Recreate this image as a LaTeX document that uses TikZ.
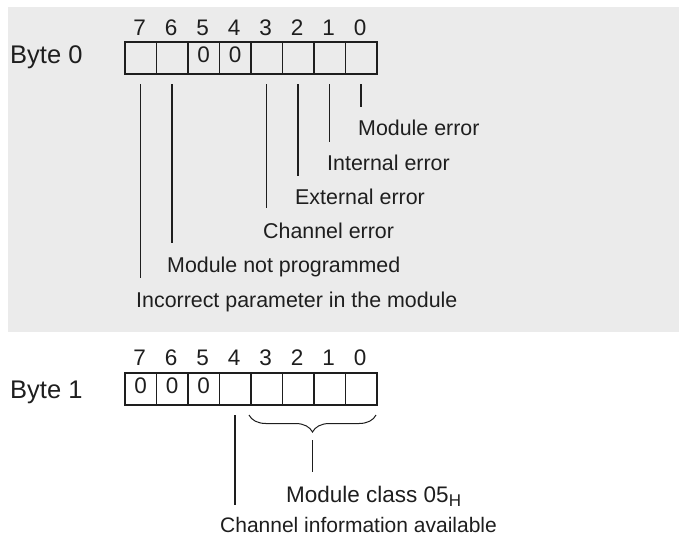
\documentclass[tikz,border=0pt]{standalone}
\usepackage{fontspec}
\setmainfont{Liberation Sans}
\usetikzlibrary{decorations.pathreplacing}
\definecolor{bggray}{RGB}{235,235,235}
\definecolor{ink}{RGB}{30,30,30}
\newcommand{\subH}{\raisebox{-4.5pt}{\fontsize{17}{17}\selectfont H}}
\begin{document}
\begin{tikzpicture}[x=1pt,y=-1pt,
  lbl/.style={anchor=base west,inner sep=0pt,text=ink,font=\fontsize{21.4}{21.4}\selectfont},
  bitnum/.style={anchor=base,inner sep=0pt,text=ink,font=\fontsize{22.5}{22.5}\selectfont},
  bytelbl/.style={anchor=base west,inner sep=0pt,text=ink,font=\fontsize{25.5}{25.5}\selectfont},
  cell/.style={draw=ink,line width=1.8pt,minimum width=31.5pt,minimum height=32pt,inner sep=0pt,anchor=north west,font=\fontsize{22.5}{22.5}\selectfont,text=ink},
  conn/.style={draw=ink,line width=1.4pt},
  thinl/.style={draw=ink,line width=1pt}]
\useasboundingbox (0,0) rectangle (679,542);
\fill[bggray] (8,7) rectangle (679,332);
% Byte 0
\node[bytelbl] (b0) at (10,63) {Byte 0};
\foreach \i/\t in {7/,6/,5/0,4/0,3/,2/,1/,0/} {
  \pgfmathsetmacro\xx{124+(7-\i)*31.5}
  \node[cell] (a\i) at (\xx,41) {\strut\t};
  \node[bitnum] (na\i) at (\xx+15.75,35) {\i};
}
% Byte 0 connectors
\coordinate (e7) at (a7.center |- 0,278);
\coordinate (e6) at (a6.center |- 0,243);
\coordinate (e3) at (a3.center |- 0,208);
\coordinate (e2) at (a2.center |- 0,176);
\coordinate (e1) at (a1.center |- 0,142);
\coordinate (e0) at (a0.center |- 0,107);
\foreach \i in {7,6,3,2,1,0} {
  \coordinate (s\i) at (a\i.center |- 0,84);
  \draw[conn] (s\i) -- (e\i);
}
\node[lbl] (l0) at (358,135) {Module error};
\node[lbl] (l1) at (327,170) {Internal error};
\node[lbl] (l2) at (295,204) {External error};
\node[lbl] (l3) at (263,238) {Channel error};
\node[lbl] (l6) at (167,272) {Module not programmed};
\node[lbl] (l7) at (136,307) {Incorrect parameter in the module};
% Byte 1
\node[bytelbl] (b1) at (10,398) {Byte 1};
\foreach \i/\t in {7/0,6/0,5/0,4/,3/,2/,1/,0/} {
  \pgfmathsetmacro\xx{124+(7-\i)*31.5}
  \node[cell] (c\i) at (\xx,372) {\strut\t};
  \node[bitnum] (nc\i) at (\xx+15.75,365) {\i};
}
\coordinate (t4) at (c4.center |- 0,415);
\coordinate (u4) at (c4.center |- 0,505);
\draw[conn] (t4) -- (u4);
\coordinate (br1) at (249,415);
\coordinate (br2) at (376,415);
\draw[thinl,decorate,decoration={brace,mirror,amplitude=17pt,aspect=0.5}] (br1) -- (br2);
\coordinate (bt) at (312.5,440);
\coordinate (bb) at (312.5,472);
\draw[conn] (bt) -- (bb);
\node[lbl,font=\fontsize{22.5}{22.5}\selectfont] (lm) at (286,502) {Module class 05\subH};
\node[lbl,font=\fontsize{21}{21}\selectfont] (lc) at (220,532) {Channel information available};
\end{tikzpicture}
\end{document}
